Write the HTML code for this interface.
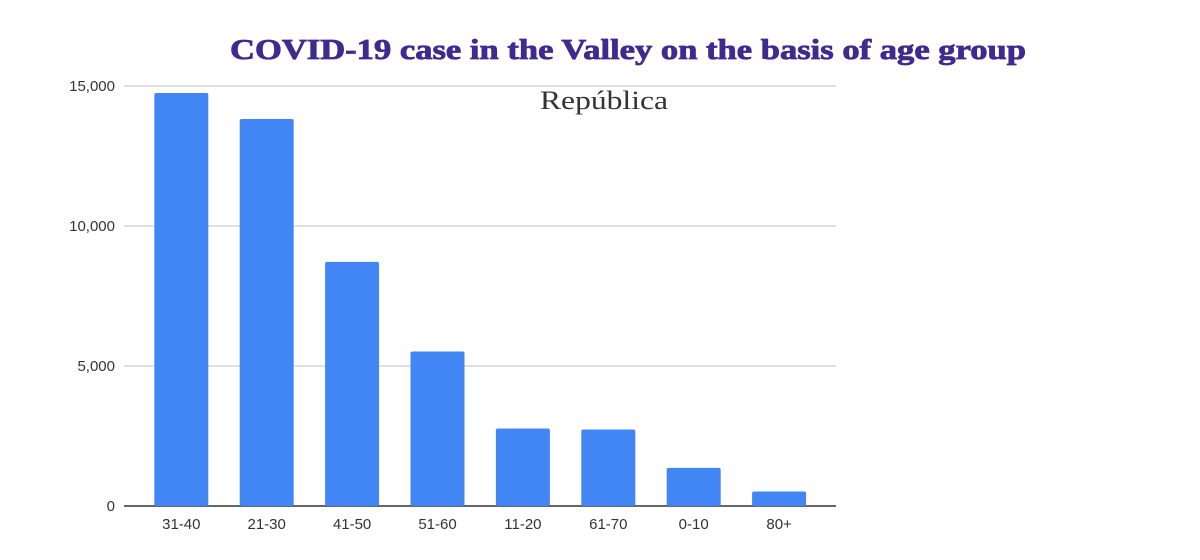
<!DOCTYPE html>
<html><head><meta charset="utf-8"><style>
html,body{margin:0;padding:0;background:#fff;width:1200px;height:560px;overflow:hidden}
</style></head><body>
<svg id="chart" width="1200" height="560" xmlns="http://www.w3.org/2000/svg">
<text x="628" y="59" text-anchor="middle" font-family="'Liberation Serif',serif" font-weight="bold" font-size="29" fill="#3f2a8f" stroke="#3f2a8f" stroke-width="0.8" textLength="796" lengthAdjust="spacingAndGlyphs">COVID-19 case in the Valley on the basis of age group</text>
<text x="540" y="109" font-family="'Liberation Serif',serif" font-size="26" fill="#333" textLength="128" lengthAdjust="spacingAndGlyphs">República</text>
<g id="grid"></g><g id="bars"></g><g id="xlabels"></g>
</svg>
<script>
const categories = ["31-40","21-30","41-50","51-60","11-20","61-70","0-10","80+"];
const values = [14750,13820,8720,5520,2770,2730,1360,520];
const yTicks = [0,5000,10000,15000];
const yTickLabels = ["0","5,000","10,000","15,000"];
const NS="http://www.w3.org/2000/svg";
const x0=138.6, step=85.4, barW=54, yBase=506, yTop=86, yMax=15000;
function y(v){return yBase-(v/yMax)*(yBase-yTop);}
function xc(i){return x0+step*(i+0.5);}
const grid=document.getElementById('grid'), bars=document.getElementById('bars'), xl=document.getElementById('xlabels');
function mk(tag,attrs,parent){const e=document.createElementNS(NS,tag);for(const k in attrs)e.setAttribute(k,attrs[k]);parent.appendChild(e);return e;}
yTicks.forEach((t,i)=>{
  const l=mk('line',{x1:124,x2:836,y1:y(t),y2:y(t),stroke:t===0?'#333':'#ccc','stroke-width':t===0?1.5:1.2},grid);
  
  
  const tx=mk('text',{x:115,y:y(t)+5,'text-anchor':'end','font-family':"'Liberation Sans',sans-serif",'font-size':15,fill:'#333'},grid);
  tx.textContent=yTickLabels[i];
  
  
});
categories.forEach((c,i)=>{
  const r=mk('rect',{x:xc(i)-barW/2,y:y(values[i]),width:barW,height:yBase-y(values[i]),fill:'#4285f4',rx:2},bars);
  
  
  const t=mk('text',{x:xc(i),y:529,'text-anchor':'middle','font-family':"'Liberation Sans',sans-serif",'font-size':15,fill:'#333'},xl);
  t.textContent=c;
  
  
});
</script>
</body></html>
